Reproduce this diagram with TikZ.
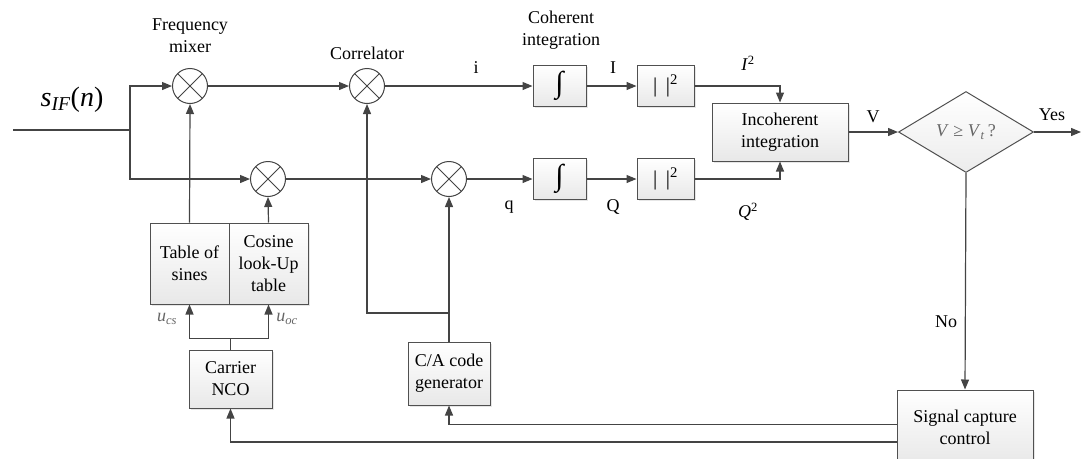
\documentclass[tikz,border=0pt]{standalone}
\usepackage{fontspec}
\setmainfont{Liberation Serif}
\usetikzlibrary{arrows.meta,shapes.geometric,shadows}
\definecolor{ln}{HTML}{444444}
\definecolor{bx}{HTML}{505050}
\newcommand{\intsym}{{\fontsize{30}{30}\selectfont ∫}}
\begin{document}
\begin{tikzpicture}[x=1pt,y=-1pt,
  every node/.style={font=\fontsize{18}{22}\selectfont},
  wire/.style={draw=ln,line width=1.2pt},
  arr/.style={wire,-{Triangle[length=10pt,width=8pt]}},
  blk/.style={draw=bx,line width=1pt,top color=white,bottom color=gray!18,
    drop shadow={shadow xshift=1.5pt,shadow yshift=-1.5pt,opacity=0.2,fill=gray},
    align=center,inner sep=2pt},
  mixer/.style={circle,draw=ln,line width=1pt,fill=white,minimum size=35pt,inner sep=0pt,
    path picture={\draw[ln,line width=0.9pt]
      (path picture bounding box.north west)--(path picture bounding box.south east)
      (path picture bounding box.north east)--(path picture bounding box.south west);}},
  lbl/.style={text=black,inner sep=0pt}
]
\useasboundingbox (0,0) rectangle (1081,458);

% mixers
\node[mixer] (mix1) at (190,86) {};
\node[mixer] (mix2) at (268,179) {};
\node[mixer] (corr) at (367,86) {};
\node[mixer] (mixq) at (449,179) {};

% blocks
\node[blk,minimum width=53pt,minimum height=41pt,inner sep=0pt] (int1) at (559.5,86) {\intsym};
\node[blk,minimum width=53pt,minimum height=41pt,inner sep=0pt] (int2) at (559.5,179) {\intsym};
\node[blk,minimum width=57pt,minimum height=41pt] (sq1) at (665.5,86) {\fontsize{21}{21}\selectfont| \,|\textsuperscript{2}};
\node[blk,minimum width=57pt,minimum height=41pt] (sq2) at (665.5,179) {\fontsize{21}{21}\selectfont| \,|\textsuperscript{2}};
\node[blk,minimum width=136pt,minimum height=58pt] (incoh) at (780,132) {Incoherent\\integration};
\node[diamond,draw=bx,line width=1pt,top color=white,bottom color=gray!15,
  minimum width=135pt,minimum height=81pt,inner sep=0pt,shape aspect=1.67] (dec) at (966,132)
  {\textcolor{gray!80!black}{\textit{V} ≥ \textit{V}\textsubscript{\textit{t}}\,?}};
\node[blk,minimum width=136pt,minimum height=75pt] (scc) at (965,427.5) {Signal capture\\control};
\node[blk,minimum width=79pt,minimum height=81pt] (sines) at (189.5,263.5) {Table of\\sines};
\node[blk,minimum width=79pt,minimum height=81pt] (cosl) at (268.5,263.5) {Cosine\\look-Up\\table};
\node[blk,minimum width=83pt,minimum height=58pt] (nco) at (230.5,379) {Carrier\\NCO};
\node[blk,minimum width=82pt,minimum height=63pt] (ca) at (449,373.5) {C/A code\\generator};

% coordinates
\coordinate (in) at (13,130);
\coordinate (split) at (130,130);
\coordinate (cj) at (449,313);
\coordinate (yesend) at (1081,132);

% input
\draw[wire] (in) -- (split);
\draw[arr] (split) |- (mix1.west);
\draw[arr] (split) |- (mix2.west);

% main paths
\draw[arr] (mix1) -- (corr);
\draw[arr] (mix2) -- (mixq);
\draw[arr] (corr) -- (int1);
\draw[arr] (mixq) -- (int2);
\draw[arr] (int1) -- (sq1);
\draw[arr] (int2) -- (sq2);
\draw[arr] (sq1.east) -| (incoh.north);
\draw[arr] (sq2.east) -| (incoh.south);
\draw[arr] (incoh) -- (dec.west);
\draw[arr] (dec.east) -- (yesend);
\draw[arr] (dec.south) -- (scc.north);

% local oscillator
\draw[arr] (sines.north) -- (mix1.south);
\draw[arr] (cosl.north) -- (mix2.south);
\draw[wire] (nco.north) -- ++(0,-11) coordinate (nj);
\draw[arr] (nj) -| (sines.south);
\draw[arr] (nj) -| (cosl.south);

% code generator
\draw[arr] (ca.north) -- (mixq.south);
\draw[arr] (cj) -| (corr.south);

% feedback
\draw[arr] ([yshift=3pt]scc.west) -| (ca.south);
\draw[arr] ([yshift=-14.5pt]scc.west) -| (nco.south);

% labels
\node[lbl,align=center] at (190,36) {Frequency\\mixer};
\node[lbl] at (367,53) {Correlator};
\node[lbl,align=center] at (561,30) {Coherent\\integration};
\node[lbl] at (476,68) {i};
\node[lbl] at (613,68) {I};
\node[lbl] at (748,63) {\textit{I}\textsuperscript{2}};
\node[lbl] at (509,207) {q};
\node[lbl] at (613,207) {Q};
\node[lbl] at (748,212) {\textit{Q}\textsuperscript{2}};
\node[lbl] at (873,117) {V};
\node[lbl] at (1052,115) {Yes};
\node[lbl] at (946,322) {No};
\node[lbl,text=gray!80!black] at (167,319) {\textit{u}\textsubscript{\textit{cs}}};
\node[lbl,text=gray!80!black] at (287,319) {\textit{u}\textsubscript{\textit{oc}}};
\node[lbl] at (72,100) {\fontsize{28}{30}\selectfont\textit{s}\textsubscript{\textit{IF}}(\textit{n})};
\end{tikzpicture}
\end{document}
